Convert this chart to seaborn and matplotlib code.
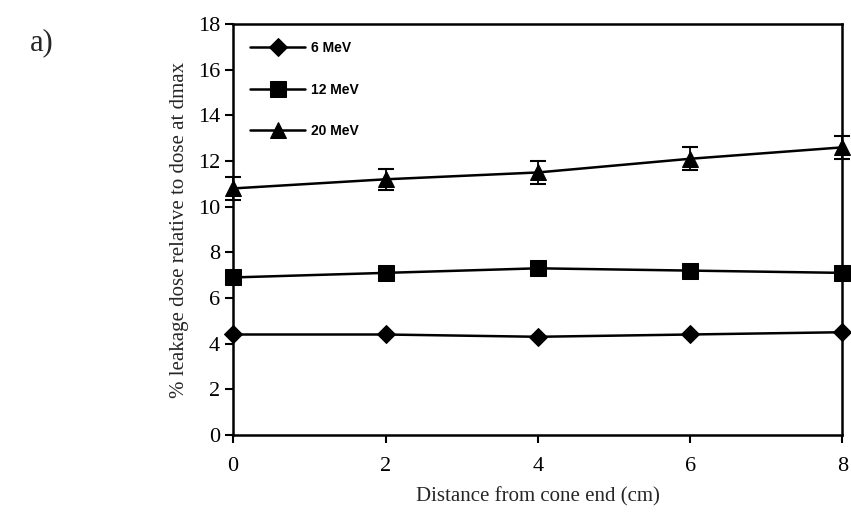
import matplotlib
matplotlib.use("Agg")
import matplotlib.pyplot as plt
import seaborn as sns
import pandas as pd
import numpy as np

distance = [0, 2, 4, 6, 8]
leak_6mev = [4.4, 4.4, 4.3, 4.4, 4.5]
leak_12mev = [6.9, 7.1, 7.3, 7.2, 7.1]
leak_20mev = [10.8, 11.2, 11.5, 12.1, 12.6]
err_20mev = [0.5, 0.45, 0.5, 0.5, 0.5]
series_names = ["6 MeV", "12 MeV", "20 MeV"]

sns.set_theme(style="ticks")
plt.rcParams['font.family'] = ['Liberation Serif', 'DejaVu Serif']

df = pd.DataFrame({
    "x": distance * 3,
    "y": leak_6mev + leak_12mev + leak_20mev,
    "s": [series_names[0]] * 5 + [series_names[1]] * 5 + [series_names[2]] * 5,
})

fig = plt.figure(figsize=(8.51, 5.24), dpi=100)
ax = fig.add_axes([0.274, 0.17, 0.716, 0.784])

sns.lineplot(data=df, x="x", y="y", style="s", hue="s",
             palette=["black"] * 3, markers=["D", "s", "^"], dashes=False,
             markersize=10, linewidth=1.8, ax=ax, legend=True, clip_on=False,
             markeredgecolor="black")
sizes = {"D": 9, "s": 11, "^": 12}
for ln in ax.lines:
    m = ln.get_marker()
    if m in sizes:
        ln.set_markersize(sizes[m])
ax.errorbar(distance, leak_20mev, yerr=err_20mev, fmt="none", ecolor="black",
            elinewidth=1.3, capsize=6, capthick=1.5, clip_on=False)

ax.set_xlim(0, 8)
ax.set_ylim(0, 18)
ax.set_xticks(range(0, 9, 2))
ax.set_yticks(range(0, 19, 2))
for s in ax.spines.values():
    s.set_linewidth(1.8)
    s.set_color("black")
ax.tick_params(axis="both", direction="out", length=6, width=1.5, labelsize=16, colors="black")
ax.tick_params(axis="x", pad=10)
ax.set_xlabel("Distance from cone end (cm)", fontsize=15, labelpad=8)
ax.set_ylabel("% leakage dose relative to dose at dmax", fontsize=15, labelpad=6)

leg = ax.legend(loc="upper left", frameon=False, handlelength=4.0, labelspacing=2.0,
                prop={"family": "Liberation Sans", "size": 10, "weight": "bold"},
                borderaxespad=0.8, handletextpad=0.4)
for t in leg.get_texts():
    t.set_color("black")
for h in leg.legend_handles:
    m = h.get_marker()
    if m in sizes:
        h.set_markersize(sizes[m])

fig.text(0.035, 0.905, "a)", fontsize=22, family="Liberation Serif")

fig.savefig("out.png", dpi=100)
